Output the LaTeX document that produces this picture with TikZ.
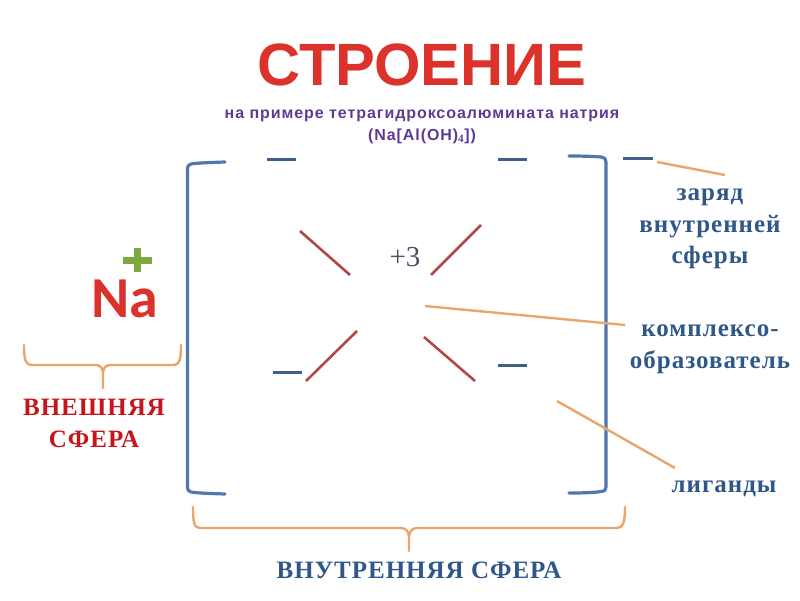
\documentclass[tikz,border=0pt]{standalone}
\usepackage{fontspec}
\setmainfont{Liberation Serif}
\newfontfamily\sansf{Liberation Sans}
\newfontfamily\sansw[LetterSpace=5.8]{Liberation Sans}
\newfontfamily\naf{Carlito}
\newfontfamily\serifs[LetterSpace=4]{Liberation Serif}
\definecolor{titlered}{HTML}{DC322C}
\definecolor{subpurple}{HTML}{5F3A95}
\definecolor{brblue}{HTML}{4F79AD}
\definecolor{dashblue}{HTML}{3D5F8A}
\definecolor{bondred}{HTML}{B2474A}
\definecolor{leader}{HTML}{E9A56B}
\definecolor{txtblue}{HTML}{2F5788}
\definecolor{extred}{HTML}{C8141C}
\definecolor{plusgreen}{HTML}{7DA83F}
\definecolor{gray3}{HTML}{44546A}
\tikzset{
  bracketline/.style={draw=brblue,line width=3.2pt,line cap=round,line join=round},
  chargedash/.style={draw=dashblue,line width=3pt},
  bondline/.style={draw=bondred,line width=2.6pt},
  leaderline/.style={draw=leader,line width=2.4pt},
  bracestroke/.style={draw=leader,line width=2.4pt,line cap=round,line join=round},
  lbl/.style={font=\serifs\bfseries\fontsize{25}{31.5}\selectfont,text=txtblue,align=center,inner sep=0pt},
  extlbl/.style={font=\serifs\bfseries\fontsize{25}{31.5}\selectfont,text=extred,align=center,inner sep=0pt},
  sub/.style={font=\sansw\bfseries\fontsize{16}{22}\selectfont,text=subpurple,align=center,inner sep=0pt}
}
\begin{document}
\begin{tikzpicture}[x=1pt,y=-1pt]
\useasboundingbox (0,0) rectangle (800,600);
% title
\node[inner sep=0pt,text=titlered,font=\sansf\bfseries\fontsize{59.7}{60}\selectfont] (title) at (422,65) {СТРОЕНИЕ};
\node[sub] (subtitle) at (422,116) {на примере тетрагидроксоалюмината натрия};
\node[sub] (formula) at (422,136) {(Na[Al(OH)$_{\mathbf 4}$])};
% brackets
\draw[bracketline] (225,162) .. controls (210,162.5) and (196,163) .. (191,164) .. controls (188,165) and (187.5,166) .. (187.5,169) -- (187.5,487) .. controls (187.5,490) and (188,491) .. (191,492) .. controls (196,493) and (210,493.5) .. (225,494);
\draw[bracketline] (569,156) .. controls (585,156) and (595,156.5) .. (601,157) .. controls (605,158) and (606,159) .. (606,162) -- (606,487) .. controls (606,490) and (605,491) .. (601,491.5) .. controls (595,492.5) and (585,493) .. (569,493);
% charge dashes
\coordinate (d1a) at (267,159); \coordinate (d1b) at (296,159);
\coordinate (d2a) at (498,159); \coordinate (d2b) at (527,159);
\coordinate (d3a) at (623,158); \coordinate (d3b) at (653,158);
\coordinate (d4a) at (273,372); \coordinate (d4b) at (302,372);
\coordinate (d5a) at (498,365); \coordinate (d5b) at (527,365);
\draw[chargedash] (d1a) -- (d1b);
\draw[chargedash] (d2a) -- (d2b);
\draw[chargedash] (d3a) -- (d3b);
\draw[chargedash] (d4a) -- (d4b);
\draw[chargedash] (d5a) -- (d5b);
% bonds
\coordinate (b1a) at (300,231); \coordinate (b1b) at (350,275);
\coordinate (b2a) at (481,225); \coordinate (b2b) at (431,275);
\coordinate (b3a) at (357,331); \coordinate (b3b) at (306,381);
\coordinate (b4a) at (424,337); \coordinate (b4b) at (475,381);
\draw[bondline] (b1a) -- (b1b);
\draw[bondline] (b2a) -- (b2b);
\draw[bondline] (b3a) -- (b3b);
\draw[bondline] (b4a) -- (b4b);
\node[inner sep=0pt,text=gray3,font=\fontsize{29}{29}\selectfont] (charge) at (405,257) {+3};
% Na
\node[inner sep=0pt,text=titlered,font=\naf\bfseries\fontsize{58}{58}\selectfont] (na) at (125,299) {Na};
\draw[draw=plusgreen,line width=7pt] (123,260) -- (152,260);
\draw[draw=plusgreen,line width=7pt] (137.5,248) -- (137.5,272);
% braces
\draw[bracestroke] (24,345) .. controls (24,358) and (25,365) .. (32,365) -- (95,365) .. controls (100,365) and (102,367) .. (103,372) -- (103,388);
\draw[bracestroke] (103,372) .. controls (104,367) and (106,365) .. (111,365) -- (173,365) .. controls (180,365) and (181,358) .. (181,345);
\draw[bracestroke] (193,507) .. controls (193,522) and (194,528) .. (200,528) -- (400,528) .. controls (405,528) and (408,530) .. (409,536) -- (409,551);
\draw[bracestroke] (409,536) .. controls (410,530) and (413,528) .. (418,528) -- (617,528) .. controls (623,528) and (625,522) .. (625,507);
% labels
\node[extlbl] (outer) at (94,423.5) {ВНЕШНЯЯ\\СФЕРА};
\node[lbl] (inner) at (419,570) {ВНУТРЕННЯЯ СФЕРА};
\node[lbl] (zar) at (710,229) {заряд\\внутренней\\сферы};
\node[lbl] (kompl) at (710,349.5) {комплексо-\\образователь};
\node[lbl] (lig) at (724,489) {лиганды};
% leaders
\coordinate (l1a) at (657,162); \coordinate (l2a) at (425,306); \coordinate (l3a) at (557,401);
\coordinate (l1b) at (725,175); \coordinate (l2b) at (625,325); \coordinate (l3b) at (675,468);
\draw[leaderline] (l1a) -- (l1b);
\draw[leaderline] (l2a) -- (l2b);
\draw[leaderline] (l3a) -- (l3b);
\end{tikzpicture}
\end{document}
